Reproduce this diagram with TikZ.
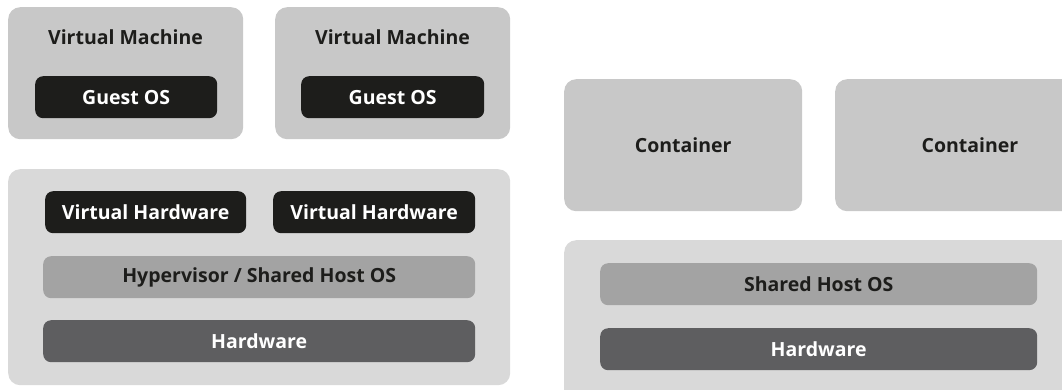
\documentclass[tikz,border=0pt]{standalone}
\usepackage{fontspec}
\setmainfont{Open Sans}
\definecolor{boxA}{HTML}{C8C8C8}
\definecolor{boxB}{HTML}{D9D9D9}
\definecolor{darkbox}{HTML}{1D1D1B}
\definecolor{midbox}{HTML}{A3A3A3}
\definecolor{hwbox}{HTML}{5E5E60}
\definecolor{txt}{HTML}{1D1D1B}
\tikzset{
  lbl/.style={font=\fontsize{19.5}{22}\selectfont\bfseries},
  outer/.style={fill=#1, rounded corners=12pt, anchor=north west, inner sep=0pt},
  layer/.style={fill=#1, rounded corners=8pt, anchor=north west, inner sep=0pt, lbl, text=white},
}
\begin{document}
\begin{tikzpicture}[x=1pt,y=-1pt]
\useasboundingbox (0,0) rectangle (1062,389);
% left side
\node[outer=boxA, minimum width=235pt, minimum height=132pt] (vm1) at (8,7) {};
\node[outer=boxA, minimum width=235pt, minimum height=132pt] (vm2) at (275,7) {};
\node[lbl, text=txt] (vm1t) at (125.5,37) {Virtual Machine};
\node[lbl, text=txt] (vm2t) at (392.5,37) {Virtual Machine};
\node[layer=darkbox, minimum width=182pt, minimum height=42pt] (g1) at (35,76) {Guest OS};
\node[layer=darkbox, minimum width=183pt, minimum height=42pt] (g2) at (301,76) {Guest OS};
\node[outer=boxB, minimum width=502pt, minimum height=216pt] (host1) at (8,169) {};
\node[layer=darkbox, minimum width=201pt, minimum height=42pt] (vh1) at (45,191) {Virtual Hardware};
\node[layer=darkbox, minimum width=202pt, minimum height=42pt] (vh2) at (273,191) {Virtual Hardware};
\node[layer=midbox, text=txt, minimum width=432pt, minimum height=42pt] (hyp) at (43,256) {Hypervisor / Shared Host OS};
\node[layer=hwbox, minimum width=432pt, minimum height=42pt] (hw1) at (43,320) {Hardware};
% right side
\node[outer=boxA, minimum width=238pt, minimum height=132pt] (c1) at (564,79) {};
\node[lbl, text=txt] (c1t) at (c1.center) {Container};
\node[outer=boxA, minimum width=240pt, minimum height=132pt] (c2) at (835,79) {};
\node[lbl, text=txt] (c2t) at (970,145) {Container};
\node[outer=boxB, minimum width=510pt, minimum height=170pt] (host2) at (564,240) {};
\node[layer=midbox, text=txt, minimum width=437pt, minimum height=42pt] (shos) at (600,263) {Shared Host OS};
\node[layer=hwbox, minimum width=437pt, minimum height=42pt] (hw2) at (600,328) {Hardware};
\end{tikzpicture}
\end{document}
